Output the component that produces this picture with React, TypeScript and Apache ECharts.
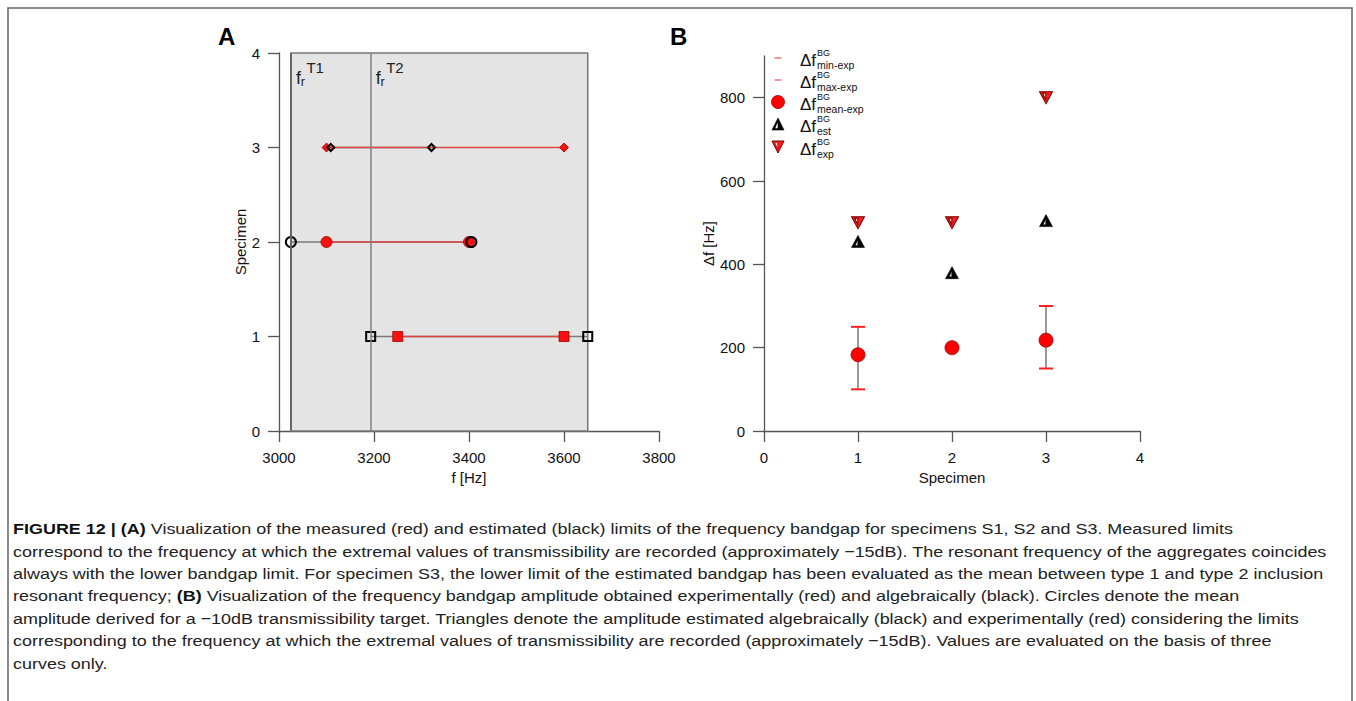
import React, { useEffect, useRef } from "react";
import * as echarts from "echarts";

// ---------- Panel A data ----------
const specimens = [1, 2, 3];
const estLower = [3193, 3025, 3109];
const estUpper = [3650, 3405, 3321];
const measLower = [3250, 3100, 3100];
const measUpper = [3600, 3400, 3600];
const frT1 = 3025;
const frT2 = 3193;
const shadedBand = [3025, 3650];
const xRangeA = [3000, 3800];
const yRangeA = [0, 4];

// ---------- Panel B data ----------
const meanExp = [183, 200, 218];
const minExp = [100, 200, 150];
const maxExp = [250, 200, 300];
const estAmp = [455, 380, 505];
const expAmp = [500, 500, 800];
const yTicksB = [0, 200, 400, 600, 800];
const xRangeB = [0, 4];
const yRangeB = [0, 900];

const legendItems = [
  { sub: "min-exp", kind: "dash" },
  { sub: "max-exp", kind: "dash" },
  { sub: "mean-exp", kind: "circle" },
  { sub: "est", kind: "tri" },
  { sub: "exp", kind: "itri" },
];

// ---------- Caption ----------
type Seg = { t: string; b?: boolean };
const captionLines: Seg[][] = [
  [{ t: "FIGURE 12 | (A)", b: true }, { t: " Visualization of the measured (red) and estimated (black) limits of the frequency bandgap for specimens S1, S2 and S3. Measured limits" }],
  [{ t: "correspond to the frequency at which the extremal values of transmissibility are recorded (approximately \u221215dB). The resonant frequency of the aggregates coincides" }],
  [{ t: "always with the lower bandgap limit. For specimen S3, the lower limit of the estimated bandgap has been evaluated as the mean between type 1 and type 2 inclusion" }],
  [{ t: "resonant frequency; " }, { t: "(B)", b: true }, { t: " Visualization of the frequency bandgap amplitude obtained experimentally (red) and algebraically (black). Circles denote the mean" }],
  [{ t: "amplitude derived for a \u221210dB transmissibility target. Triangles denote the amplitude estimated algebraically (black) and experimentally (red) considering the limits" }],
  [{ t: "corresponding to the frequency at which the extremal values of transmissibility are recorded (approximately \u221215dB). Values are evaluated on the basis of three" }],
  [{ t: "curves only." }],
];

const FONT = '"Liberation Sans", Arial, Helvetica, sans-serif';
const CAP_FONT = '"Liberation Sans Narrow", "Arial Narrow", "Liberation Sans", Arial, sans-serif';
const AX = { color: "#555", width: 1.3 };
const TXT = "#111";

const TRI_UP = "path://M0,12L6.5,0L13,12Z M6.3,4.2L3.6,10.2L6.3,10.2Z";
const TRI_DOWN = "path://M0,0L13,0L6.5,12Z M3.2,1.6L6.3,8.2L6.3,1.6Z";

function makeAxis(extra: any) {
  return {
    type: "value",
    axisLine: { show: true, onZero: false, lineStyle: AX },
    axisTick: { show: true, inside: false, length: 11, lineStyle: AX },
    splitLine: { show: false },
    axisLabel: { fontSize: 15, color: TXT, fontFamily: FONT, margin: 19, formatter: (v: number) => String(v) },
    nameLocation: "middle",
    nameTextStyle: { fontSize: 15, color: TXT, fontFamily: FONT },
    ...extra,
  };
}

export default function App() {
  const ref = useRef<HTMLDivElement>(null);
  useEffect(() => {
    const el = ref.current!;
    document.body.style.margin = "0";
    document.body.style.overflow = "hidden";
    const chart = echarts.init(el, null, { renderer: "svg" });

    const shapes = ["rect", "circle", "diamond"];
    const redSizes = [10, 11, 9];
    const blackSizes = [9, 10, 7];
    const series: any[] = [];

    // Shaded band + resonance lines
    series.push({
      type: "line",
      xAxisIndex: 0,
      yAxisIndex: 0,
      data: [[frT1, 0]],
      symbol: "none",
      lineStyle: { opacity: 0 },
      silent: true,
      z: 1,
      markArea: {
        silent: true,
        itemStyle: { color: "#e4e4e4", borderColor: "#777", borderWidth: 1.5 },
        data: [[{ xAxis: shadedBand[0], yAxis: yRangeA[0] }, { xAxis: shadedBand[1], yAxis: yRangeA[1] }]],
      },
      markLine: {
        silent: true,
        symbol: "none",
        label: { show: false },
        data: [
          { xAxis: frT1, lineStyle: { color: "#666", width: 2, type: "solid" } },
          { xAxis: frT2, lineStyle: { color: "#808080", width: 1.5, type: "solid" } },
        ],
      },
    });

    specimens.forEach((s, i) => {
      series.push({
        type: "line",
        xAxisIndex: 0,
        yAxisIndex: 0,
        data: [[estLower[i], s], [estUpper[i], s]],
        symbol: "none",
        lineStyle: { color: "#7a7a7a", width: 1.5 },
        z: 2,
      });
      series.push({
        type: "line",
        xAxisIndex: 0,
        yAxisIndex: 0,
        data: [[measLower[i], s], [measUpper[i], s]],
        symbol: shapes[i],
        symbolSize: redSizes[i],
        showSymbol: true,
        itemStyle: { color: "#ff1010", borderColor: "#a00000", borderWidth: 0.8, opacity: 1 },
        lineStyle: { color: "#dd4444", width: 1.5 },
        z: 3,
      });
      series.push({
        type: "scatter",
        xAxisIndex: 0,
        yAxisIndex: 0,
        data: [[estLower[i], s], [estUpper[i], s]],
        symbol: shapes[i],
        symbolSize: blackSizes[i],
        itemStyle: { color: "rgba(0,0,0,0)", borderColor: "#000", borderWidth: 2, opacity: 1 },
        z: 4,
      });
    });

    // Panel B
    series.push({
      type: "custom",
      xAxisIndex: 1,
      yAxisIndex: 1,
      data: specimens.map((s, i) => [s, minExp[i], maxExp[i]]),
      renderItem: (params: any, api: any) => {
        const x = api.value(0);
        const lo = api.coord([x, api.value(1)]);
        const hi = api.coord([x, api.value(2)]);
        return {
          type: "line",
          shape: { x1: lo[0], y1: lo[1], x2: hi[0], y2: hi[1] },
          style: { stroke: "#777", lineWidth: 1.5 },
        };
      },
      z: 2,
    });
    [minExp, maxExp].forEach((arr) => {
      series.push({
        type: "scatter",
        xAxisIndex: 1,
        yAxisIndex: 1,
        data: specimens.map((s, i) => [s, arr[i]]),
        symbol: "rect",
        symbolSize: [14, 2],
        itemStyle: { color: "#ff2020", opacity: 1 },
        z: 3,
      });
    });
    series.push({
      type: "scatter",
      xAxisIndex: 1,
      yAxisIndex: 1,
      data: specimens.map((s, i) => [s, meanExp[i]]),
      symbol: "circle",
      symbolSize: 14,
      itemStyle: { color: "#ff0000", borderColor: "#a00000", borderWidth: 0.8, opacity: 1 },
      z: 4,
    });
    series.push({
      type: "scatter",
      xAxisIndex: 1,
      yAxisIndex: 1,
      data: specimens.map((s, i) => [s, estAmp[i]]),
      symbol: TRI_UP,
      symbolSize: [13, 12],
      itemStyle: { color: "#000", borderColor: "#000", borderWidth: 0.6, opacity: 1 },
      z: 4,
    });
    series.push({
      type: "scatter",
      xAxisIndex: 1,
      yAxisIndex: 1,
      data: specimens.map((s, i) => [s, expAmp[i]]),
      symbol: TRI_DOWN,
      symbolSize: [13, 12],
      itemStyle: { color: "#ff1a1a", borderColor: "#7a0000", borderWidth: 1, opacity: 1 },
      z: 4,
    });

    const option: any = {
      animation: false,
      backgroundColor: "#fff",
      grid: [
        { left: 279, top: 53, width: 380, height: 378 },
        { left: 764, top: 56, width: 376, height: 375 },
      ],
      xAxis: [
        makeAxis({ gridIndex: 0, min: xRangeA[0], max: xRangeA[1], interval: 200, name: "f [Hz]", nameGap: 38 }),
        makeAxis({ gridIndex: 1, min: xRangeB[0], max: xRangeB[1], interval: 1, name: "Specimen", nameGap: 38 }),
      ],
      yAxis: [
        makeAxis({ gridIndex: 0, min: yRangeA[0], max: yRangeA[1], interval: 1, name: "Specimen", nameGap: 31 }),
        makeAxis({
          gridIndex: 1,
          min: yRangeB[0],
          max: yRangeB[1],
          interval: 200,
          name: "\u0394f [Hz]",
          nameGap: 48,
          axisTick: { show: true, inside: false, length: 11, lineStyle: AX, customValues: yTicksB },
          axisLabel: { fontSize: 15, color: TXT, fontFamily: FONT, margin: 19, customValues: yTicksB, formatter: (v: number) => String(v) },
        }),
      ],
      series,
    };
    chart.setOption(option);

    // ---------- graphics ----------
    const g: any[] = [];
    const Z = 20;
    // frame
    g.push({
      type: "polyline",
      z: Z,
      shape: { points: [[8, 701], [8, 8], [1352, 8], [1352, 701]] },
      style: { stroke: "#666", lineWidth: 1.5, fill: "none" },
      silent: true,
    });
    // panel letters
    g.push({ type: "text", z: Z, x: 218, y: 24, style: { text: "A", font: `bold 24px ${FONT}`, fill: "#000" } });
    g.push({ type: "text", z: Z, x: 670, y: 24, style: { text: "B", font: `bold 24px ${FONT}`, fill: "#000" } });

    // resonance labels
    [
      { v: frT1, sup: "T1" },
      { v: frT2, sup: "T2" },
    ].forEach((it) => {
      const p = chart.convertToPixel({ gridIndex: 0 } as any, [it.v, yRangeA[1]]) as number[];
      const x0 = (p && isFinite(p[0]) ? p[0] : 0) + 5;
      g.push({ type: "text", z: Z, x: x0, y: 77.5, style: { text: "f", font: `18px ${FONT}`, fill: "#222", verticalAlign: "middle" } });
      g.push({ type: "text", z: Z, x: x0 + 4.8, y: 82, style: { text: "r", font: `12.5px ${FONT}`, fill: "#222", verticalAlign: "middle" } });
      g.push({ type: "text", z: Z, x: x0 + 10.5, y: 67, style: { text: it.sup, font: `15px ${FONT}`, fill: "#222", verticalAlign: "middle" } });
    });

    // legend in panel B
    const legY = [58, 80, 102, 124, 147];
    const mx = 778;
    legendItems.forEach((it, i) => {
      const m = legY[i];
      if (it.kind === "dash") {
        g.push({ type: "rect", z: Z, shape: { x: mx - 3.5, y: m - 0.75, width: 7, height: 1.5 }, style: { fill: "#ee7777" } });
      } else if (it.kind === "circle") {
        g.push({ type: "circle", z: Z, shape: { cx: mx, cy: m, r: 6.5 }, style: { fill: "#ff0000", stroke: "#a00000", lineWidth: 0.8 } });
      } else if (it.kind === "tri") {
        g.push({ type: "polygon", z: Z, shape: { points: [[mx - 6, m + 6], [mx, m - 6], [mx + 6, m + 6]] }, style: { fill: "#000", stroke: "#000", lineWidth: 0.6 } });
        g.push({ type: "polygon", z: Z + 1, shape: { points: [[mx - 0.3, m - 1.8], [mx - 2.8, m + 4.2], [mx - 0.3, m + 4.2]] }, style: { fill: "#fff" } });
      } else {
        g.push({ type: "polygon", z: Z, shape: { points: [[mx - 6, m - 6], [mx + 6, m - 6], [mx, m + 6]] }, style: { fill: "#ff1a1a", stroke: "#7a0000", lineWidth: 1 } });
        g.push({ type: "polygon", z: Z + 1, shape: { points: [[mx - 3.2, m - 4.4], [mx - 0.3, m - 4.4], [mx - 0.3, m + 2]] }, style: { fill: "#fff", stroke: "#7a0000", lineWidth: 0.6 } });
      }
      g.push({ type: "text", z: Z, x: 800, y: m + 2, style: { text: "\u0394f", font: `17px ${FONT}`, fill: "#111", verticalAlign: "middle" } });
      g.push({ type: "text", z: Z, x: 817, y: m - 4.8, style: { text: "BG", font: `9px ${FONT}`, fill: "#111", verticalAlign: "middle" } });
      g.push({ type: "text", z: Z, x: 817, y: m + 7.2, style: { text: it.sub, font: `10.5px ${FONT}`, fill: "#111", verticalAlign: "middle" } });
    });

    // caption
    const capSize = 15.5;
    const ctx = document.createElement("canvas").getContext("2d")!;
    const measure = (segs: Seg[]) =>
      segs.reduce((w, s) => {
        ctx.font = `${s.b ? "bold " : ""}${capSize}px ${CAP_FONT}`;
        return w + ctx.measureText(s.t).width;
      }, 0);
    const w2 = measure(captionLines[1]);
    const k = w2 > 0 ? 1315 / w2 : 1;
    const richText = captionLines
      .map((segs) => segs.map((s) => `{${s.b ? "b" : "r"}|${s.t}}`).join(""))
      .join("\n");
    g.push({
      type: "text",
      z: Z,
      x: 13,
      y: 518,
      scaleX: k,
      style: {
        text: richText,
        fill: "#222",
        verticalAlign: "top",
        rich: {
          r: { fontSize: capSize, fontFamily: CAP_FONT, lineHeight: 22.4, fill: "#222" },
          b: { fontSize: capSize, fontFamily: CAP_FONT, fontWeight: "bold", lineHeight: 22.4, fill: "#111" },
        },
      },
    });

    chart.setOption({ graphic: g });
    return () => chart.dispose();
  }, []);
  return <div ref={ref} style={{ position: "fixed", left: 0, top: 0, width: 1356, height: 701, background: "#fff" }} />;
}
